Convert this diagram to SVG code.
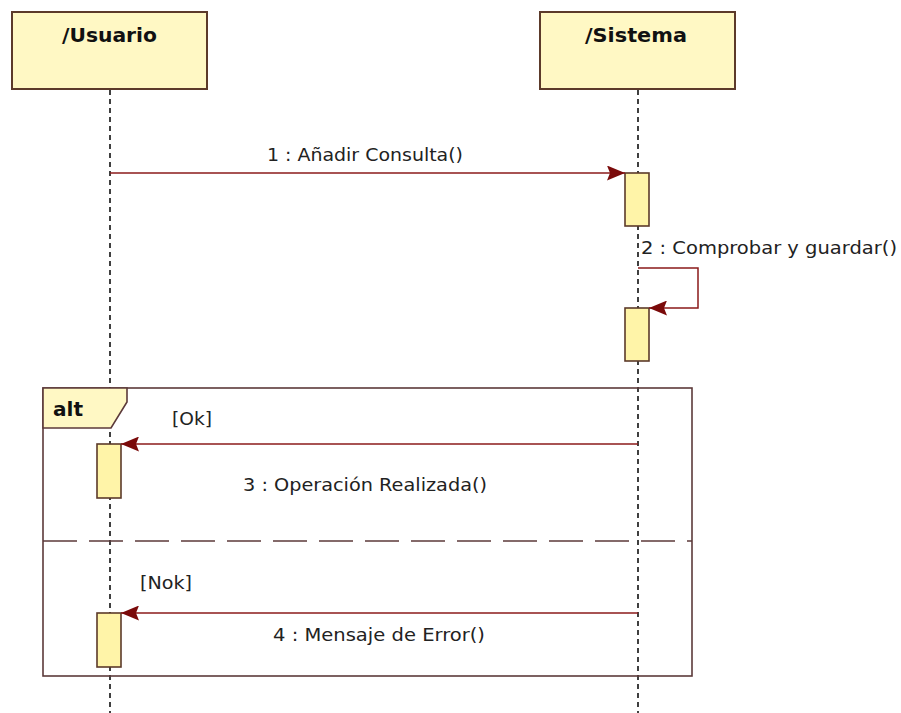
<svg xmlns="http://www.w3.org/2000/svg" width="901" height="713" viewBox="0 0 901 713">
  <style>
    .obj { fill: #FFF8C4; stroke: #5C3A2A; stroke-width: 2; }
    .act { fill: #FFF4A8; stroke: #5C3A2A; stroke-width: 1.6; }
    .life { stroke: #111; stroke-width: 1.6; stroke-dasharray: 5 4; fill: none; }
    .msg { stroke: #8B1A1A; stroke-width: 1.5; fill: none; }
    .frame { fill: none; stroke: #5C3A3A; stroke-width: 1.6; }
    .title { font-family: "DejaVu Sans", "Liberation Sans", sans-serif; font-weight: bold; font-size: 20px; fill: #111; }
    .lbl { font-family: "DejaVu Sans", "Liberation Sans", sans-serif; font-size: 18px; fill: #222; }
  </style>
  <defs>
    <marker id="arrow" viewBox="0 0 18 15" refX="18" refY="7.5" markerWidth="18" markerHeight="15" markerUnits="userSpaceOnUse" orient="auto">
      <path d="M0,0 L18,7.5 L0,15 L3,7.5 Z" fill="#7A0A0A"/>
    </marker>
  </defs>
  <rect width="901" height="713" fill="#fff"/>

  <!-- lifelines -->
  <g id="lifelines">
    <line class="life" x1="110" y1="90" x2="110" y2="713"/>
    <line class="life" x1="638" y1="90" x2="638" y2="713"/>
  </g>

  <g id="usuario">
    <rect class="obj" x="12" y="12" width="195" height="77"/>
    <text class="title" x="62" y="42" textLength="95" lengthAdjust="spacingAndGlyphs">/Usuario</text>
  </g>
  <g id="sistema">
    <rect class="obj" x="540" y="12" width="195" height="77"/>
    <text class="title" x="585" y="42" textLength="102" lengthAdjust="spacingAndGlyphs">/Sistema</text>
  </g>

  <!-- combined fragment -->
  <g id="alt-fragment">
    <rect class="frame" x="43" y="388" width="649" height="288"/>
    <path d="M43,388 L127,388 L127,402 L111,428 L43,428 Z" fill="#FFF8C4" stroke="#5C3A3A" stroke-width="1.6"/>
    <line x1="43" y1="541" x2="692" y2="541" stroke="#5C3A3A" stroke-width="1.6" stroke-dasharray="34 12"/>
    <text class="title" x="53" y="416" font-size="18" textLength="30" lengthAdjust="spacingAndGlyphs">alt</text>
    <text class="lbl" x="172" y="425" textLength="40" lengthAdjust="spacingAndGlyphs">[Ok]</text>
    <text class="lbl" x="140" y="589" textLength="52" lengthAdjust="spacingAndGlyphs">[Nok]</text>
  </g>

  <!-- activations -->
  <g id="activations">
    <rect class="act" x="625" y="173" width="24" height="53"/>
    <rect class="act" x="625" y="308" width="24" height="53"/>
    <rect class="act" x="97" y="444" width="24" height="54"/>
    <rect class="act" x="97" y="613" width="24" height="54"/>
  </g>

  <!-- messages -->
  <g id="connectors">
    <line class="msg" x1="110" y1="173" x2="625" y2="173" marker-end="url(#arrow)"/>
    <text class="lbl" x="267" y="161" textLength="196" lengthAdjust="spacingAndGlyphs">1 : Añadir Consulta()</text>

    <polyline class="msg" points="638,268 698,268 698,308 649,308" marker-end="url(#arrow)"/>
    <text class="lbl" x="641" y="254" textLength="256" lengthAdjust="spacingAndGlyphs">2 : Comprobar y guardar()</text>

    <line class="msg" x1="638" y1="444" x2="121" y2="444" marker-end="url(#arrow)"/>
    <text class="lbl" x="243" y="491" textLength="244" lengthAdjust="spacingAndGlyphs">3 : Operación Realizada()</text>

    <line class="msg" x1="638" y1="613" x2="121" y2="613" marker-end="url(#arrow)"/>
    <text class="lbl" x="273" y="641" textLength="212" lengthAdjust="spacingAndGlyphs">4 : Mensaje de Error()</text>
  </g>
</svg>
